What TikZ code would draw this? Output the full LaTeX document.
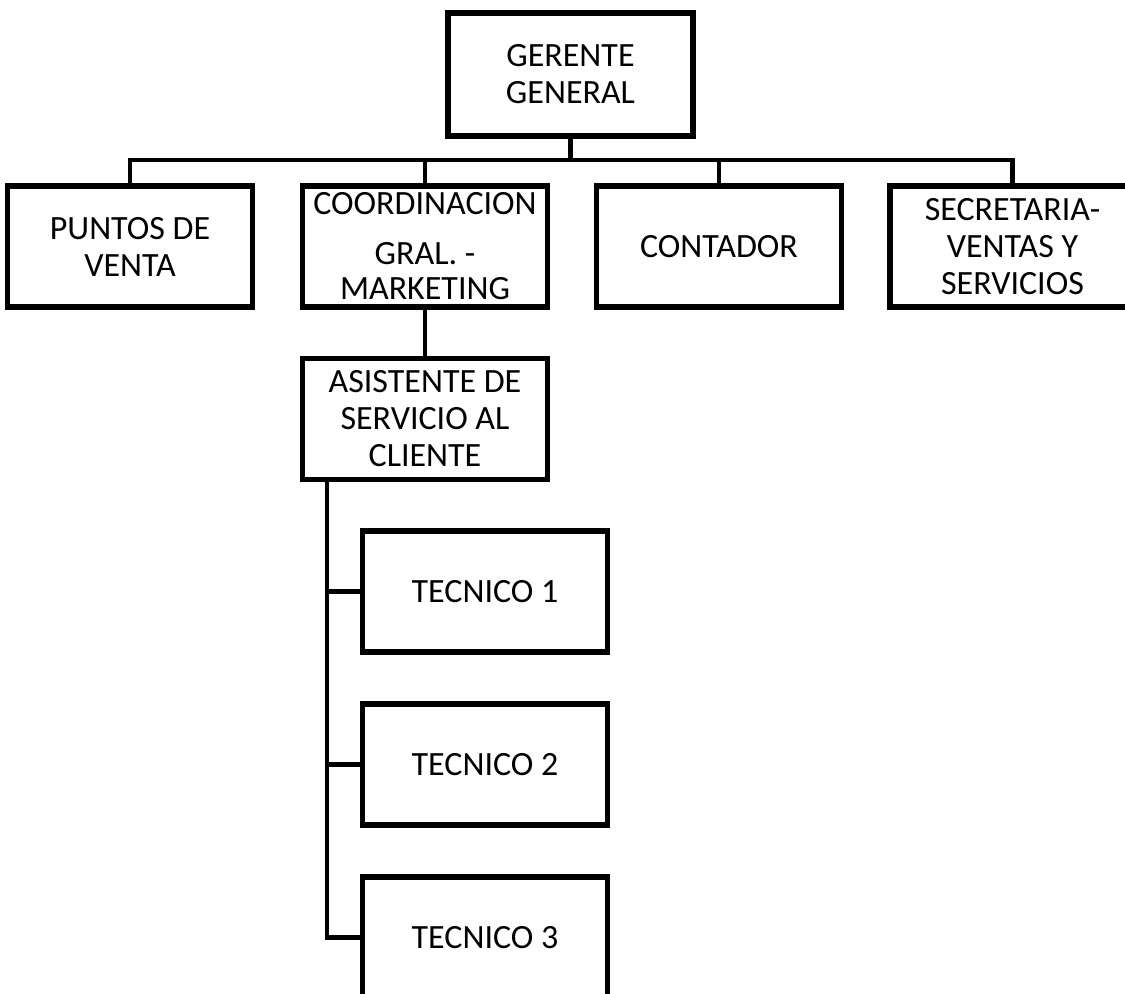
\documentclass[tikz,border=0pt]{standalone}
\usepackage{fontspec}
\setmainfont{Carlito}
\begin{document}
\begin{tikzpicture}[x=0.75pt,y=-0.75pt,
  box/.style={draw=black,line width=4pt,rectangle,minimum width=245*0.75pt,minimum height=121*0.75pt,
    inner sep=0pt,align=center,font=\fontsize{25.5pt}{27.75pt}\selectfont},
  link/.style={draw=black,line width=3.4pt}]
\useasboundingbox (0,0) rectangle (1125,994);
\clip (0,0) rectangle (1125,994);
\node[box,minimum height=123*0.75pt] (ger) at (570.5,74.5) {GERENTE\\GENERAL};
\node[box] (pun) at (130,246.5) {PUNTOS DE\\VENTA};
\node[box] (coo) at (425,246.5) {COORDINACION\\[9.75pt]GRAL. -\\[-1.5pt]MARKETING};
\node[box] (con) at (719,246.5) {CONTADOR};
\node[box] (sec) at (1012.5,246.5) {SECRETARIA-\\VENTAS Y\\SERVICIOS};
\node[box] (asi) at (425,419) {ASISTENTE DE\\SERVICIO AL\\CLIENTE};
\node[box] (t1) at (485,591.5) {TECNICO 1};
\node[box] (t2) at (485,764.5) {TECNICO 2};
\node[box] (t3) at (485,937.5) {TECNICO 3};
\coordinate (bus) at (573,160);
\coordinate (trunk) at (327,480);
\draw[link] (ger.south) -- (ger.south |- bus);
\draw[link] (pun.north) -- (pun.north |- bus) -| (sec.north);
\draw[link] (coo.north) -- (coo.north |- bus);
\draw[link] (con.north) -- (con.north |- bus);
\draw[link] (coo.south) -- (asi.north);
\draw[link] (trunk) |- (t3.west);
\draw[link] (t1.west) -- (t1.west -| trunk);
\draw[link] (t2.west) -- (t2.west -| trunk);
\end{tikzpicture}
\end{document}
